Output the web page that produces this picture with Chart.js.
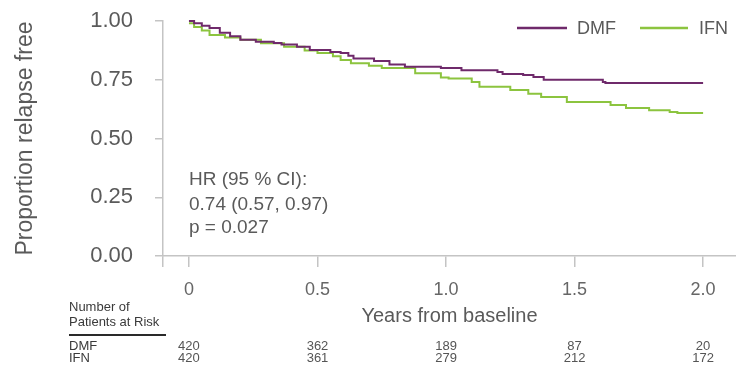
<!DOCTYPE html>
<html>
<head>
<meta charset="utf-8">
<script src="https://cdn.jsdelivr.net/npm/chart.js@4/dist/chart.umd.min.js"></script>
<style>
  html, body { margin: 0; padding: 0; background: #fff; }
  #wrap { width: 736px; height: 372px; position: relative; }
</style>
</head>
<body>
<div id="wrap"><canvas id="c"></canvas></div>
<script>
// ---- data ----
const dmfTimes = [0, 0.02, 0.05, 0.08, 0.12, 0.16, 0.20, 0.26, 0.33, 0.36, 0.42, 0.47, 0.55, 0.59, 0.62, 0.64, 0.72, 0.78, 0.84, 0.98, 1.06, 1.20, 1.22, 1.30, 1.34, 1.38, 1.61, 1.62, 2.0];
const dmfSurv  = [1.0, 0.99, 0.98, 0.97, 0.95, 0.935, 0.92, 0.912, 0.906, 0.90, 0.89, 0.877, 0.868, 0.864, 0.852, 0.84, 0.83, 0.815, 0.805, 0.80, 0.79, 0.783, 0.774, 0.77, 0.762, 0.75, 0.74, 0.736, 0.736];
const ifnTimes = [0, 0.02, 0.05, 0.08, 0.14, 0.20, 0.28, 0.37, 0.45, 0.50, 0.56, 0.59, 0.63, 0.70, 0.75, 0.88, 0.98, 1.01, 1.10, 1.13, 1.25, 1.32, 1.37, 1.47, 1.64, 1.70, 1.79, 1.87, 1.90, 2.0];
const ifnSurv  = [0.99, 0.975, 0.96, 0.94, 0.93, 0.92, 0.905, 0.89, 0.875, 0.864, 0.85, 0.834, 0.82, 0.81, 0.80, 0.778, 0.76, 0.755, 0.74, 0.72, 0.706, 0.69, 0.677, 0.655, 0.643, 0.63, 0.62, 0.613, 0.609, 0.609];
const seriesNames = ["DMF", "IFN"];
const xTickValues = [0, 0.5, 1.0, 1.5, 2.0];
const xTickLabels = ["0", "0.5", "1.0", "1.5", "2.0"];
const yTickValues = [0, 0.25, 0.5, 0.75, 1.0];
const yTickLabels = ["0.00", "0.25", "0.50", "0.75", "1.00"];
const riskDMF = [420, 362, 189, 87, 20];
const riskIFN = [420, 361, 279, 212, 172];
const hrLines = ["HR (95 % CI):", "0.74 (0.57, 0.97)", "p = 0.027"];

// ---- styles ----
const DMF_COLOR = "#6f2a6b";
const IFN_COLOR = "#8cc43f";
const AXIS_COLOR = "#c4c4c4";
const TEXT_COLOR = "#5a5a5a";
const FONT = "'Liberation Sans', Arial, sans-serif";
const X_MIN = -0.101, X_MAX = 2.128;

function pts(t, s) { return t.map((v, i) => ({ x: v, y: s[i] })); }

const overlay = {
  id: "overlay",
  afterDraw(chart) {
    const ctx = chart.ctx;
    const xs = chart.scales.x;
    ctx.save();
    // legend
    ctx.font = "18px " + FONT;
    ctx.textBaseline = "middle";
    ctx.textAlign = "left";
    const leg = [
      { name: seriesNames[0], color: DMF_COLOR, x0: 517, x1: 567, tx: 577 },
      { name: seriesNames[1], color: IFN_COLOR, x0: 640, x1: 688, tx: 699 }
    ];
    leg.forEach(l => {
      ctx.strokeStyle = l.color; ctx.lineWidth = 2.5;
      ctx.beginPath(); ctx.moveTo(l.x0, 28); ctx.lineTo(l.x1, 28); ctx.stroke();
      ctx.fillStyle = TEXT_COLOR; ctx.fillText(l.name, l.tx, 29);
    });
    // HR annotation
    ctx.font = "19px " + FONT;
    const hx = xs.getPixelForValue(0);
    [180, 205, 228].forEach((y, i) => ctx.fillText(hrLines[i], hx, y));
    // number at risk table
    ctx.fillStyle = "#3a3a3a";
    ctx.font = "13px " + FONT;
    ctx.fillText("Number of", 69, 307);
    ctx.fillText("Patients at Risk", 69, 322);
    ctx.strokeStyle = "#2a2a2a"; ctx.lineWidth = 2;
    ctx.beginPath(); ctx.moveTo(69, 335); ctx.lineTo(166, 335); ctx.stroke();
    ctx.fillText(seriesNames[0], 69, 346);
    ctx.fillText(seriesNames[1], 69, 358);
    ctx.fillStyle = "#555";
    ctx.textAlign = "center";
    xTickValues.forEach((v, i) => {
      const px = xs.getPixelForValue(v);
      ctx.fillText(String(riskDMF[i]), px, 346);
      ctx.fillText(String(riskIFN[i]), px, 358);
    });
    ctx.restore();
  }
};

new Chart(document.getElementById("c"), {
  type: "line",
  data: {
    datasets: [
      { label: seriesNames[0], data: pts(dmfTimes, dmfSurv), borderColor: DMF_COLOR, borderWidth: 2, stepped: true, pointRadius: 0, fill: false, clip: false },
      { label: seriesNames[1], data: pts(ifnTimes, ifnSurv), borderColor: IFN_COLOR, borderWidth: 2, stepped: true, pointRadius: 0, fill: false, clip: false }
    ]
  },
  options: {
    responsive: true,
    maintainAspectRatio: false,
    animation: false,
    layout: { padding: { top: 21, right: 0, left: 0, bottom: 0 } },
    plugins: { legend: { display: false }, tooltip: { enabled: false } },
    scales: {
      x: {
        type: "linear", min: X_MIN, max: X_MAX,
        afterBuildTicks: s => { s.ticks = [{ value: X_MIN }].concat(xTickValues.map(v => ({ value: v }))); },
        afterFit: s => { s.height = 116; s.paddingLeft = 0; s.paddingRight = 0; s.paddingTop = 0; s.paddingBottom = 0; },
        ticks: {
          autoSkip: false, maxRotation: 0, padding: 12,
          color: "#666", font: { family: FONT, size: 18 },
          callback: (v, i) => i === 0 ? "" : xTickLabels[i - 1]
        },
        grid: { drawOnChartArea: false, drawTicks: true, tickLength: 11, color: AXIS_COLOR, lineWidth: 1.5 },
        border: { display: true, color: AXIS_COLOR, width: 1.5 },
        title: { display: true, text: "Years from baseline", color: TEXT_COLOR, font: { family: FONT, size: 20 }, padding: { top: 0, bottom: 44 } }
      },
      y: {
        type: "linear", min: 0, max: 1,
        afterBuildTicks: s => { s.ticks = yTickValues.map(v => ({ value: v })); },
        afterFit: s => { s.width = 163; s.paddingTop = 0; s.paddingBottom = 0; s.paddingLeft = 0; s.paddingRight = 0; },
        ticks: {
          padding: 22, color: TEXT_COLOR, font: { family: FONT, size: 22 },
          callback: (v, i) => yTickLabels[i]
        },
        grid: { drawOnChartArea: false, drawTicks: true, tickLength: 8, color: AXIS_COLOR, lineWidth: 1.5 },
        border: { display: true, color: AXIS_COLOR, width: 1.5 },
        title: { display: true, text: "Proportion relapse free", color: TEXT_COLOR, font: { family: FONT, size: 23 }, padding: { top: 12, bottom: 0 } }
      }
    }
  },
  plugins: [overlay]
});
</script>
</body>
</html>
